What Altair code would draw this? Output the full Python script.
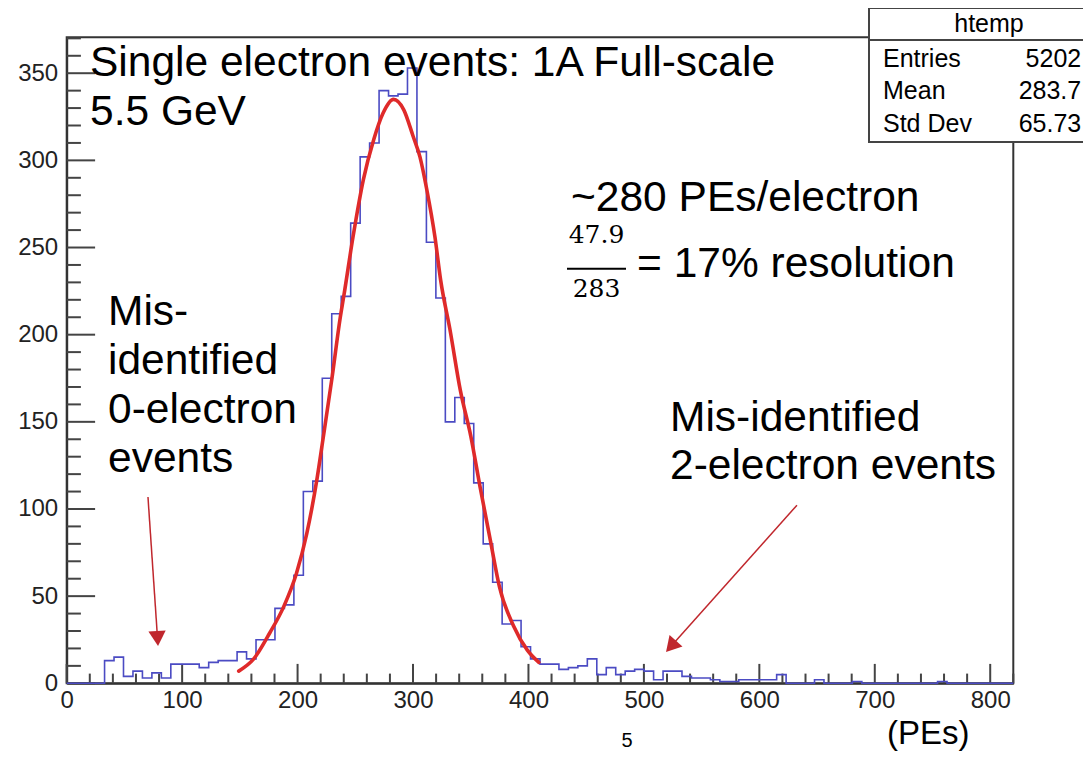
import altair as alt
import pandas as pd

# ---------------- data ----------------
BIN_WIDTH = 8.2  # 100 bins over 0..820 PEs
counts = [0, 0, 0, 0, 13, 15, 4, 7, 3, 6,
          3, 11, 11, 11, 9, 12, 13, 13, 18, 14,
          25, 25, 43, 45, 62, 110, 116, 175, 212, 222,
          264, 302, 310, 340, 337, 338, 353, 305, 253, 221,
          150, 164, 149, 115, 80, 58, 34, 36, 21, 14,
          11, 11, 8, 9, 10, 14, 5, 9, 5, 7,
          8, 7, 2, 7, 7, 4, 3, 3, 2, 1,
          1, 2, 2, 2, 2, 5, 0, 0, 0, 2,
          0, 0, 0, 1, 0, 0, 0, 0, 0, 0,
          0, 0, 1, 0, 0, 0, 0, 0, 0, 0]

fit_pe = [149, 162, 176, 188, 199, 208, 217, 222, 230, 237, 240, 248, 257, 266,
          274, 283, 292, 300, 306, 312, 319, 324, 332, 341, 350, 358, 367, 375,
          387, 399, 409]
fit_n = [7, 14, 29, 44, 63, 86, 118, 140, 176, 210, 222, 256, 289, 312,
         327, 335, 329, 314, 302, 283, 256, 231, 203, 168, 142, 113, 82, 55,
         33, 19, 12]

x_major = [0, 100, 200, 300, 400, 500, 600, 700, 800]
x_minor = [20, 40, 60, 80, 120, 140, 160, 180, 220, 240, 260, 280, 320, 340, 360, 380,
           420, 440, 460, 480, 520, 540, 560, 580, 620, 640, 660, 680, 720, 740, 760,
           780, 820]
y_major = [0, 50, 100, 150, 200, 250, 300, 350]
y_minor = [10, 20, 30, 40, 60, 70, 80, 90, 110, 120, 130, 140, 160, 170, 180, 190,
           210, 220, 230, 240, 260, 270, 280, 290, 310, 320, 330, 340, 360, 370]

arrow_start_pe = [70.4, 632.6]
arrow_start_n = [106.9, 102.2]
arrow_head_pe = [78.7, 523.5]
arrow_head_n = [25.7, 21.2]

stats_labels = ["Entries", "Mean", "Std Dev"]
stats_values = ["5202", "283.7", "65.73"]

X_MAX = 820
Y_MAX = 370.6

# ---------------- layout ----------------
W, H = 946.6, 646
PAD = {"left": 58.7, "top": 29.3, "right": 69.7, "bottom": 68.7}
FONT = "Liberation Sans"
AX = "#333333"

edges = [round(i * BIN_WIDTH, 1) for i in range(len(counts) + 1)]
hist_df = pd.DataFrame({"pe": edges, "n": counts + [0]})
fit_df = pd.DataFrame({"pe": fit_pe, "n": fit_n})

x_scale = alt.Scale(domain=[0, X_MAX], nice=False, zero=False)
y_scale = alt.Scale(domain=[0, Y_MAX], nice=False)
x_axis = alt.Axis(values=x_major, title=None, ticks=False, grid=False, domain=True,
                  domainColor=AX, domainWidth=2, labelFont=FONT, labelFontSize=24,
                  labelColor="#222222", labelPadding=5, labelFlush=False)
y_axis = alt.Axis(values=y_major, title=None, ticks=False, grid=False, domain=True,
                  domainColor=AX, domainWidth=2, labelFont=FONT, labelFontSize=24,
                  labelColor="#222222", labelPadding=9)

X = lambda f="pe": alt.X(f"{f}:Q", scale=x_scale, axis=x_axis)
Y = lambda f="n": alt.Y(f"{f}:Q", scale=y_scale, axis=y_axis)

one = pd.DataFrame({"_": [0]})

hist = alt.Chart(hist_df).mark_line(interpolate="step-after", color="#4b4bc3",
                                    strokeWidth=1.6).encode(x=X(), y=Y())
fit = alt.Chart(fit_df).mark_line(interpolate="monotone", color="#df2a2a",
                                  strokeWidth=3.6, strokeCap="round").encode(x=X(), y=Y())

def xticks(vals, length):
    return alt.Chart(pd.DataFrame({"pe": vals})).mark_rule(color="#444444", strokeWidth=2).encode(
        x=X(), y=alt.value(H), y2=alt.value(H - length))

def yticks(vals, length):
    return alt.Chart(pd.DataFrame({"n": vals})).mark_rule(color="#444444", strokeWidth=2).encode(
        y=Y(), x=alt.value(0), x2=alt.value(length))

arrow_df = pd.DataFrame({"pe": arrow_start_pe, "n": arrow_start_n,
                         "pe2": arrow_head_pe, "n2": arrow_head_n,
                         "ang": [176.2, 221.7]})
arrow_lines = alt.Chart(arrow_df).mark_rule(color="#c0272d", strokeWidth=1.5).encode(
    x=X(), y=Y(), x2="pe2:Q", y2="n2:Q")
arrow_heads = alt.Chart(arrow_df).mark_point(shape="triangle-up", filled=True, opacity=1,
                                             color="#c0272d", size=300).encode(
    x=X("pe2"), y=Y("n2"), angle=alt.Angle("ang:Q", scale=None))

def txt(text, x, y, size=42.5, align="left", font=FONT, color="black", lh=None):
    kw = dict(text=text, align=align, baseline="alphabetic", fontSize=size, font=font, color=color)
    if lh:
        kw["lineHeight"] = lh
    return alt.Chart(one).mark_text(**kw).encode(x=alt.value(x), y=alt.value(y))

texts = [
    txt("Single electron events: 1A Full-scale", 23.3, 38.7),
    txt("5.5 GeV", 23.3, 87.7),
    txt(["Mis-", "identified", "0-electron", "events"], 41.3, 287.7, lh=49),
    txt(["Mis-identified", "2-electron events"], 603.3, 393.7, lh=48),
    txt("~280 PEs/electron", 504.3, 173.2),
    txt("47.9", 529.8, 205.7, size=25, align="center", font="DejaVu Serif"),
    txt("283", 529.8, 259.7, size=25, align="center", font="DejaVu Serif"),
    txt("= 17% resolution", 570.3, 239.7),
    txt("(PEs)", 820.3, 706.7, size=33),
    txt("5", 560.3, 709.5, size=20, align="center"),
]
frac_bar = alt.Chart(one).mark_rule(color="black", strokeWidth=2).encode(
    x=alt.value(500.3), x2=alt.value(559.3), y=alt.value(231.5), y2=alt.value(231.5))

# stats box (ROOT style)
box = alt.Chart(one).mark_rect(fill="white", stroke="#444444", strokeWidth=2).encode(
    x=alt.value(802.3), x2=alt.value(1040), y=alt.value(-29.3), y2=alt.value(104.7))
box_line = alt.Chart(one).mark_rule(color="#444444", strokeWidth=2).encode(
    x=alt.value(802.3), x2=alt.value(1040), y=alt.value(2.7), y2=alt.value(2.7))
box_texts = [txt("htemp", 922.3, -5, size=25, align="center")]
for i, (lab, val) in enumerate(zip(stats_labels, stats_values)):
    box_texts.append(txt(lab, 816.3, 29.4 + 32.7 * i, size=25))
    box_texts.append(txt(val, 1014.5, 29.4 + 32.7 * i, size=25, align="right"))

chart = alt.layer(
    xticks(x_major, 19.4), xticks(x_minor, 9.7), yticks(y_major, 28.4), yticks(y_minor, 14.2),
    hist, fit, arrow_lines, arrow_heads, frac_bar, *texts, box, box_line, *box_texts
).properties(
    width=W, height=H, padding=PAD, autosize=alt.AutoSizeParams(type="none"),
    background="white"
).configure_view(stroke=AX, strokeWidth=2)

chart.save("out.html", embed_options={"renderer": "svg", "actions": False})
